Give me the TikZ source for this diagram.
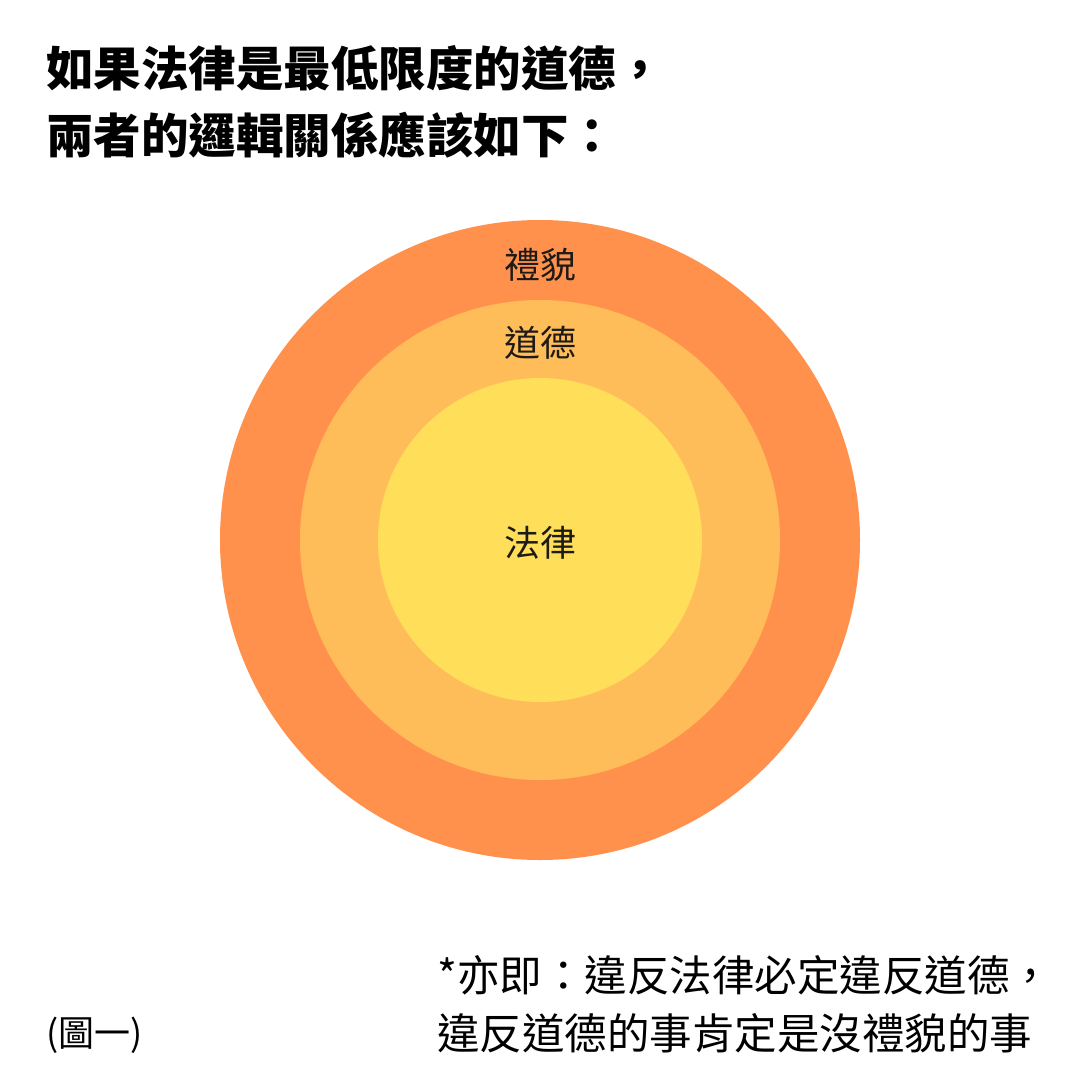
\documentclass[tikz,border=0pt]{standalone}
\usepackage{fontspec}
\newfontfamily\cjk{Noto Sans CJK TC}
\definecolor{outerc}{HTML}{FF914D}
\definecolor{midc}{HTML}{FFBD59}
\definecolor{innerc}{HTML}{FFDE59}
\definecolor{labc}{HTML}{1E1A16}
\tikzset{
  title/.style={anchor=west,inner sep=0pt,font=\cjk\bfseries\fontsize{47.5}{56}\selectfont},
  lab/.style={inner sep=0pt,text=labc,font=\cjk\fontsize{36}{42}\selectfont},
  note/.style={anchor=west,inner sep=0pt,font=\cjk\fontsize{42.5}{50}\selectfont},
  ring/.style={circle,draw=none,inner sep=0pt}
}
\begin{document}
\begin{tikzpicture}[x=1pt,y=-1pt]
\useasboundingbox[fill=white] (0,0) rectangle (1080,1080);
\node[ring,fill=outerc,minimum size=640pt] (outer) at (540,540) {};
\node[ring,fill=midc,minimum size=480pt] (mid) at (540,540) {};
\node[ring,fill=innerc,minimum size=324pt] (inner) at (540,540) {};
\node[title] (t1) at (46,68) {如果法律是最低限度的道德，};
\node[title] (t2) at (46,135) {兩者的邏輯關係應該如下：};
\node[lab] (l1) at (540,265) {禮貌};
\node[lab] (l2) at (540,343) {道德};
\node[lab] (l3) at (540,543) {法律};
\node[note] (n1) at (437,975) {*亦即：違反法律必定違反道德，};
\node[note] (n2) at (437,1033) {違反道德的事肯定是沒禮貌的事};
\node[anchor=west,inner sep=0pt,font=\cjk\fontsize{36}{42}\selectfont] (fig) at (46,1035) {(圖一)};
\end{tikzpicture}
\end{document}
